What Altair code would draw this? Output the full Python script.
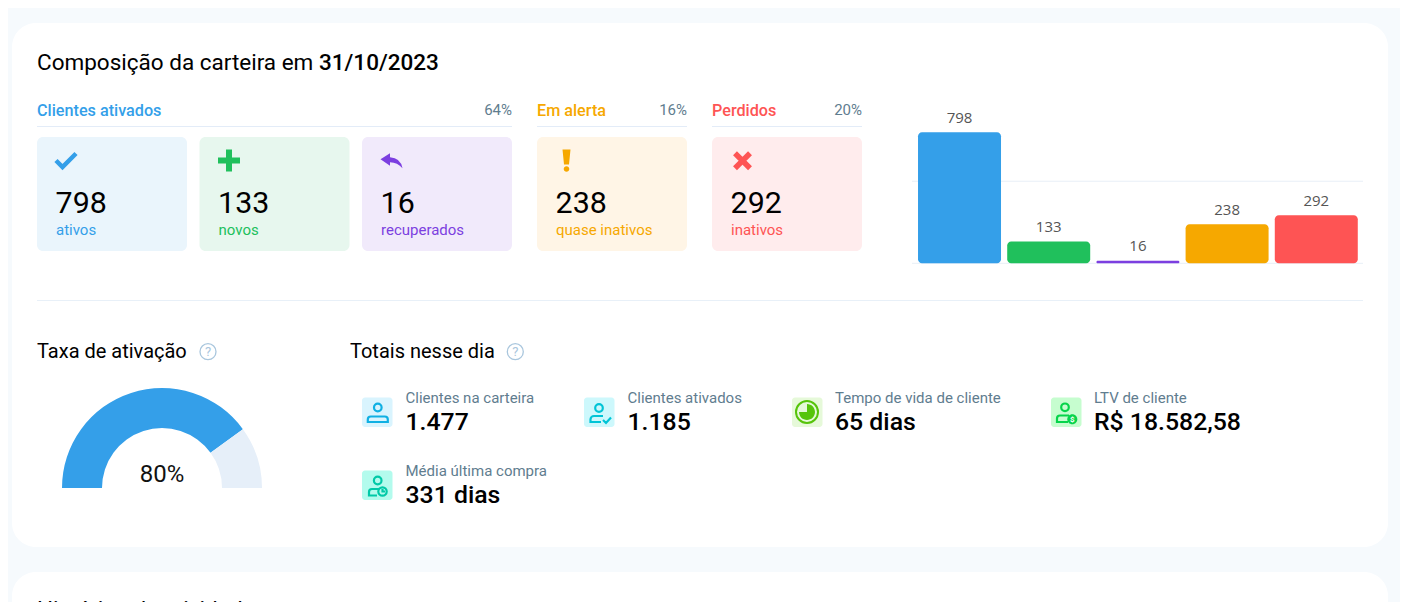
import math
import altair as alt
import pandas as pd

# ---- data ----
categories = ["ativos", "novos", "recuperados", "quase inativos", "inativos"]
bar_values = [798, 133, 16, 238, 292]
grid_values = [0, 500]
gauge_values = [80, 20]
gauge_label = "80%"
group_names = ["Clientes ativados", "Em alerta", "Perdidos"]
group_shares = ["64%", "16%", "20%"]
total_labels = ["Clientes na carteira", "Clientes ativados", "Tempo de vida de cliente", "LTV de cliente", "Média última compra"]
total_values = ["1.477", "1.185", "65 dias", "R$ 18.582,58", "331 dias"]

BLUE, GREEN, PURPLE, ORANGE, RED = "#349fe9", "#20c05c", "#7c3fe0", "#f6a800", "#fe5454"
colors = [BLUE, GREEN, PURPLE, ORANGE, RED]
tints = ["#eaf5fc", "#e7f7ee", "#f1eafb", "#fff5e6", "#ffeced"]
SLATE = "#5f7d8f"
LINE = "#e3ecf8"

def X(v): return v - 8
def Y(v): return v - 8
one = alt.Data(values=[{"a": 1}])

def rect(x0, y0, x1, y1, fill, r=0):
    return alt.Chart(one).mark_rect(fill=fill, cornerRadius=r).encode(
        x=alt.value(X(x0)), x2=alt.value(X(x1)), y=alt.value(Y(y0)), y2=alt.value(Y(y1)))

def text(t, x, y, size, color="#000000", weight=400, align="left", font="Roboto"):
    return alt.Chart(alt.Data(values=[{"t": t}])).mark_text(
        font=font, fontSize=size, fontWeight=weight, color=color, align=align, baseline="alphabetic"
    ).encode(x=alt.value(X(x)), y=alt.value(Y(y)), text="t:N")

def icon(path, x, y, color, sw=0):
    if sw:
        m = alt.Chart(one).mark_point(shape=path, size=4, filled=False, stroke=color, strokeWidth=sw, opacity=1)
    else:
        m = alt.Chart(one).mark_point(shape=path, size=4, filled=True, fill=color, strokeWidth=0, opacity=1)
    return m.encode(x=alt.value(X(x)), y=alt.value(Y(y)))

def circ(cx, cy, r):
    return f"M{cx-r},{cy}a{r},{r} 0 1 0 {2*r},0a{r},{r} 0 1 0 {-2*r},0Z"

layers = []
# panels
layers.append(rect(12, 23, 1388, 547, "#ffffff", 24))
layers.append(rect(12, 572, 1388, 660, "#ffffff", 24))

# title
layers.append(text("Composição da carteira em", 37, 70, 22.5))
layers.append(text("31/10/2023", 319, 70, 22.5, weight=500))

# group headers
groups = [(37, 512, BLUE), (537, 687, ORANGE), (712, 862, RED)]
for (x0, x1, c), name, share in zip(groups, group_names, group_shares):
    layers.append(text(name, x0, 116, 16.2, c, 500))
    layers.append(text(share, x1, 115, 15, SLATE, align="right"))
    layers.append(rect(x0, 126, x1, 127, LINE))

# cards
card_x = [37, 199.5, 362, 537, 712]
for x0, val, lab, c, tint in zip(card_x, bar_values, categories, colors, tints):
    layers.append(rect(x0, 137, x0 + 150, 251, tint, 6))
    layers.append(text(str(val), x0 + 18.6, 212.8, 30.4))
    layers.append(text(lab, x0 + 19, 235, 15, c))

layers.append(icon("M-10,0L-3.5,6.5L10,-7", 66, 160.5, BLUE, 4.5))
layers.append(icon("M-11,0H11M0,-11V11", 229, 160.5, GREEN, 6))
layers.append(icon("M-11,-1.5L-1.5,-7.5V-3.5Q9,-3 11,7.5Q6,1.5 -1.5,1.5V5Z", 391.5, 160.8, PURPLE))
layers.append(icon("M-4,-11H4L2.5,4H-2.5Z" + circ(0, 8.5, 2.8), 566.5, 160.5, ORANGE))
layers.append(icon("M-7.5,-7.5L7.5,7.5M7.5,-7.5L-7.5,7.5", 742.5, 160.7, RED, 5.5))

# bar chart
bars = pd.DataFrame({"cat": categories, "v": bar_values, "c": colors})
xenc = alt.X("cat:N", sort=categories, axis=None,
             scale=alt.Scale(range=[X(914.9), X(1360.9)], paddingInner=0.0695, paddingOuter=0.035))
yenc = alt.Y("v:Q", axis=None, stack=None,
             scale=alt.Scale(domain=[0, 798], range=[Y(263.3), Y(132.3)], nice=False, zero=True))
grid = pd.DataFrame({"v": grid_values})
layers.append(alt.Chart(grid).mark_rule(color="#e8eff7", strokeWidth=1).encode(
    y=yenc, x=alt.value(X(912)), x2=alt.value(X(1363))))
layers.append(alt.Chart(bars).mark_bar(cornerRadius=4).encode(
    x=xenc, y=yenc, color=alt.Color("c:N", scale=None)))
layers.append(alt.Chart(bars).mark_text(font="Open Sans", fontSize=15, color="#555555", baseline="alphabetic", dy=-9.5).encode(
    x=xenc, y=yenc, text="v:Q"))

# divider
layers.append(rect(37, 300, 1363, 301, "#e8f0f8"))

# gauge
layers.append(text("Taxa de ativação", 37, 358, 20))
gauge = pd.DataFrame({"v": gauge_values, "i": [0, 1], "c": [BLUE, "#e6eff9"]})
layers.append(alt.Chart(gauge).mark_arc(innerRadius=60, outerRadius=100).encode(
    theta=alt.Theta("v:Q", stack=True, scale=alt.Scale(domain=[0, 100], range=[-math.pi / 2, math.pi / 2])),
    order=alt.Order("i:Q"),
    color=alt.Color("c:N", scale=None),
    x=alt.value(X(162)), y=alt.value(Y(488))))
layers.append(text(gauge_label, 162, 482, 24, "#111111", align="center"))

# help marks
for hx in (208, 515.3):
    layers.append(icon(circ(0, 0, 8), hx, 351.7, "#a9c6dd", 1.3))
    layers.append(text("?", hx, 356, 13, "#a9c6dd", align="center"))

# totals
layers.append(text("Totais nesse dia", 350, 358, 20))
rows = [(362, 397.5, "#d9f4fe"), (584, 397.5, "#cdf8fc"), (792, 397.5, "#e6f9d9"), (1051, 397.5, "#c6fdcf"), (362, 470.5, "#b3fbed")]
text_x = [405.5, 627.5, 835, 1094, 405.5]
for (x0, y0, bg), tx, lab, val in zip(rows, text_x, total_labels, total_values):
    layers.append(rect(x0, y0, x0 + 30.5, y0 + 29.5, bg, 3))
    layers.append(text(lab, tx, y0 + 5.5, 15, SLATE))
    layers.append(text(val, tx, y0 + 32, 24.8, "#000000", 500))

layers.append(icon(circ(0, -4.5, 3.8) + "M-7,4.5H7a3,3 0 0 1 3,3V10H-10V7.5a3,3 0 0 1 3,-3Z", 377.8, 412, "#10b0e3", 2.2))
layers.append(icon(circ(0, -4, 3.8) + "M4,4H-5a3.5,3.5 0 0 0 -3.5,3.5V10H2M4,8L7,11L12,5.5", 599, 412, "#00c4d6", 2.2))
layers.append(icon(circ(0, 0, 11), 807, 412, "#56c40a", 2))
layers.append(icon("M0,0V-8A8,8 0 1 1 -8,0Z", 807, 412, "#56c40a"))
layers.append(icon(circ(-1, -4.7, 3.8) + "M3,3.5H-6a3,3 0 0 0 -3,3V10H2", 1066, 412, "#06d44a", 2.2))
layers.append(icon(circ(6.3, 7.3, 5), 1066, 412, "#06d44a"))
layers.append(text("$", 1072.3, 422.3, 8, "#ffffff", 700, align="center"))
layers.append(icon(circ(0.7, -5, 3.8) + "M2,3.5H-5a3,3 0 0 0 -3,3V10H0" + circ(5.5, 6, 4.2) + "M5.5,3.5V6H8", 377, 485.5, "#00c9a7", 2.2))

# next panel's heading
layers.append(text("Histórico de atividades", 37, 617, 22.5))

chart = alt.layer(*layers).properties(
    width=1392, height=594, padding=0, background="#f6fafd",
    autosize=alt.AutoSizeParams(type="none"),
).configure_view(stroke=None)

chart.save("out.html", embed_options={"renderer": "svg", "actions": False})
